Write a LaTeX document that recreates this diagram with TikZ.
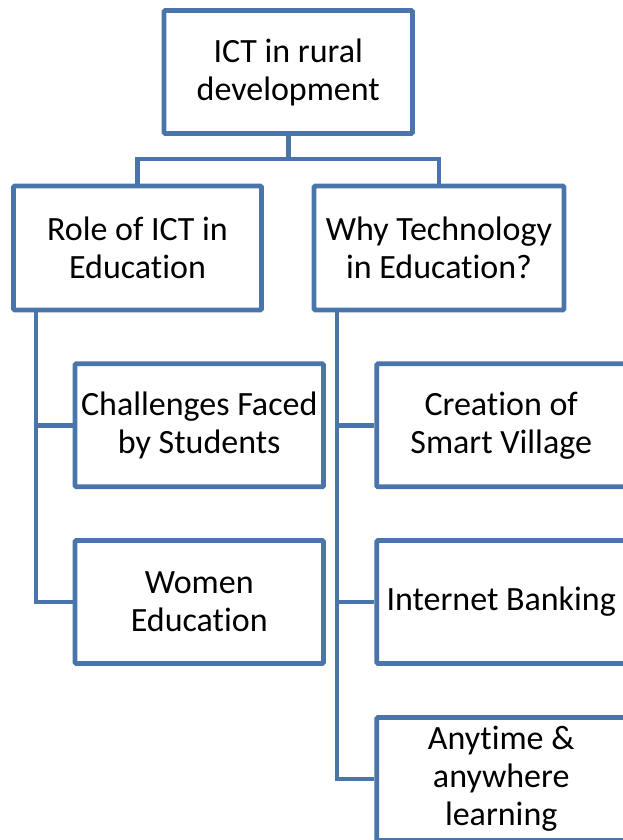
\documentclass[tikz,border=0pt]{standalone}
\usepackage{fontspec}
\setmainfont[Ligatures={NoCommon,NoRare}]{Carlito}
\usetikzlibrary{calc}
\definecolor{boxblue}{RGB}{74,117,170}
\tikzset{
  box/.style={draw=boxblue, line width=4.8pt, rounded corners=1.2pt, fill=white,
    minimum width=248.5pt, minimum height=123pt, align=center, inner sep=0pt,
    font=\fontsize{34}{38}\selectfont, text=black},
  conn/.style={draw=boxblue, line width=4.8pt}
}
\begin{document}
\begin{tikzpicture}[x=1pt,y=-1pt]
\useasboundingbox (0,0) rectangle (623,840);
\clip (0,0) rectangle (623,840);
\fill[white] (0,0) rectangle (623,840);
\node[box] (top) at (288.25,72) {ICT in rural\\development};
\node[box, minimum width=248pt, minimum height=124pt] (L) at (137.5,248) {Role of ICT in\\Education};
\node[box, minimum width=250pt, minimum height=124pt] (R) at (439,248) {Why Technology\\in Education?};
\node[box] (c1) at (199.25,425.3) {Challenges Faced\\by Students};
\node[box] (c2) at (199.25,602) {Women\\Education};
\node[box, minimum width=249pt] (r1) at (501.2,425.3) {Creation of\\Smart Village};
\node[box, minimum width=249pt] (r2) at (501.2,602) {Internet Banking};
\node[box, minimum width=249pt] (r3) at (501.2,779) {Anytime \&\\anywhere\\learning};
\coordinate (j) at (288.25,159);
\coordinate (lv) at ($(L.south west)+(24.8,0)$);
\coordinate (rv) at ($(R.south west)+(25.3,0)$);
\draw[conn] (top.south) -- (j);
\draw[conn] (L.north) |- (j) -| (R.north);
\draw[conn] (lv) |- (c1.west);
\draw[conn] (lv) |- (c2.west);
\draw[conn] (rv) |- (r1.west);
\draw[conn] (rv) |- (r2.west);
\draw[conn] (rv) |- (r3.west);
\end{tikzpicture}
\end{document}
